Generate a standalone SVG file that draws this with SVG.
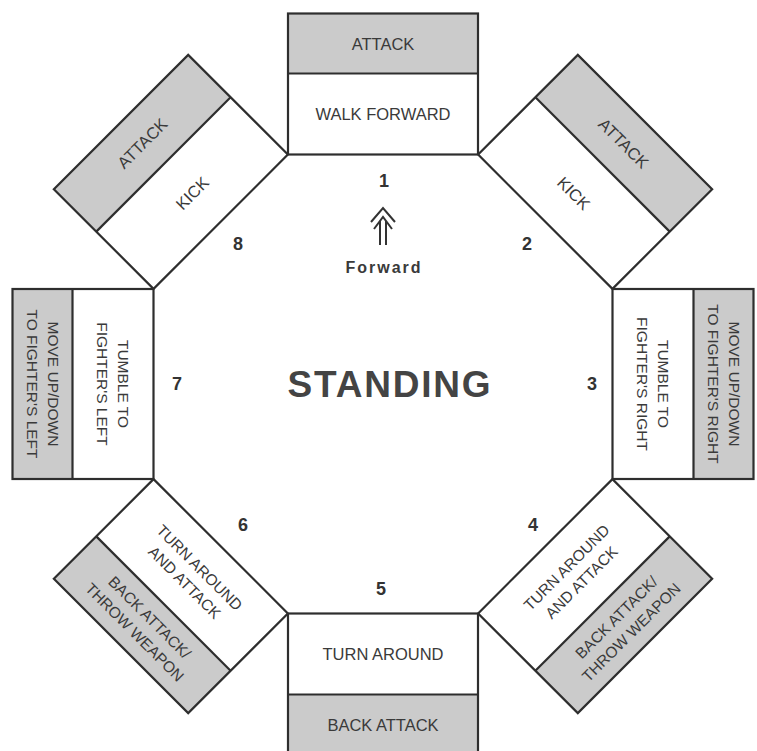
<svg xmlns="http://www.w3.org/2000/svg" xmlns:xlink="http://www.w3.org/1999/xlink" width="757" height="751" viewBox="0 0 757 751">
<style>
.bg{fill:#ffffff}
.gray{fill:#cbcbcb}
.white{fill:#ffffff}
.edge{fill:none;stroke:#2e2e2e;stroke-width:2.2}
.lbl{font-family:"Liberation Sans",Arial,sans-serif;font-size:15.5px;fill:#3a3a3a;text-anchor:middle}
.big{font-size:16.5px}
.num{font-family:"Liberation Sans",Arial,sans-serif;font-size:18px;font-weight:bold;fill:#333;text-anchor:middle}
.fwd{font-family:"Liberation Sans",Arial,sans-serif;font-size:16px;font-weight:bold;fill:#3a3a3a;text-anchor:middle;letter-spacing:2px}
.title{font-family:"Liberation Sans",Arial,sans-serif;font-size:37px;font-weight:bold;fill:#444;text-anchor:middle;letter-spacing:1.8px}
.arrow{fill:none;stroke:#333;stroke-width:2}
</style>
<defs>
<g id="box">
<rect class="gray" x="288" y="13.5" width="190" height="60"/>
<rect class="white" x="288" y="73.5" width="190" height="81"/>
<line class="edge" x1="288" y1="73.5" x2="478" y2="73.5"/>
<rect class="edge" x="288" y="13.5" width="190" height="141"/>
</g>
</defs>
<rect class="bg" x="0" y="0" width="757" height="751"/>

<g id="box-1">
<use xlink:href="#box"/>
<text class="lbl big" x="383" y="49.5">ATTACK</text>
<text class="lbl big" x="383" y="120">WALK FORWARD</text>
</g>

<g id="box-2" transform="rotate(45 383 384)">
<use xlink:href="#box"/>
<text class="lbl big" x="383" y="49.5">ATTACK</text>
<text class="lbl big" x="383" y="120">KICK</text>
</g>

<g id="box-3" transform="rotate(90 383 384)">
<use xlink:href="#box"/>
<text class="lbl" x="383" y="38.5">MOVE UP/DOWN</text>
<text class="lbl" x="383" y="59.5">TO FIGHTER'S RIGHT</text>
<text class="lbl" x="383" y="109">TUMBLE TO</text>
<text class="lbl" x="383" y="130">FIGHTER'S RIGHT</text>
</g>

<g id="box-4" transform="rotate(135 383 384)">
<use xlink:href="#box"/>
<g transform="rotate(180 383 43.5)">
<text class="lbl" x="383" y="38.5">BACK ATTACK/</text>
<text class="lbl" x="383" y="59.5">THROW WEAPON</text>
</g>
<g transform="rotate(180 383 114)">
<text class="lbl" x="383" y="109">TURN AROUND</text>
<text class="lbl" x="383" y="130">AND ATTACK</text>
</g>
</g>

<g id="box-5" transform="rotate(180 383 384)">
<use xlink:href="#box"/>
<g transform="rotate(180 383 43.5)">
<text class="lbl big" x="383" y="49.5">BACK ATTACK</text>
</g>
<g transform="rotate(180 383 114)">
<text class="lbl big" x="383" y="120">TURN AROUND</text>
</g>
</g>

<g id="box-6" transform="rotate(225 383 384)">
<use xlink:href="#box"/>
<g transform="rotate(180 383 43.5)">
<text class="lbl" x="383" y="38.5">BACK ATTACK/</text>
<text class="lbl" x="383" y="59.5">THROW WEAPON</text>
</g>
<g transform="rotate(180 383 114)">
<text class="lbl" x="383" y="109">TURN AROUND</text>
<text class="lbl" x="383" y="130">AND ATTACK</text>
</g>
</g>

<g id="box-7" transform="rotate(270 383 384)">
<use xlink:href="#box"/>
<g transform="rotate(180 383 43.5)">
<text class="lbl" x="383" y="38.5">MOVE UP/DOWN</text>
<text class="lbl" x="383" y="59.5">TO FIGHTER'S LEFT</text>
</g>
<g transform="rotate(180 383 114)">
<text class="lbl" x="383" y="109">TUMBLE TO</text>
<text class="lbl" x="383" y="130">FIGHTER'S LEFT</text>
</g>
</g>

<g id="box-8" transform="rotate(315 383 384)">
<use xlink:href="#box"/>
<text class="lbl big" x="383" y="49.5">ATTACK</text>
<text class="lbl big" x="383" y="120">KICK</text>
</g>

<g id="numbers">
<text class="num" x="384" y="186.5">1</text>
<text class="num" x="527" y="249.5">2</text>
<text class="num" x="592" y="389.5">3</text>
<text class="num" x="533" y="530.5">4</text>
<text class="num" x="381" y="594.5">5</text>
<text class="num" x="243" y="530.5">6</text>
<text class="num" x="177" y="389.5">7</text>
<text class="num" x="238" y="249.5">8</text>
</g>

<g id="forward">
<polyline class="arrow" points="371,222 383,208 395,222"/>
<polyline class="arrow" points="374,229 383,217 392,229"/>
<line class="arrow" x1="380" y1="221" x2="380" y2="245"/>
<line class="arrow" x1="386" y1="221" x2="386" y2="245"/>
<text class="fwd" x="384" y="273">Forward</text>
</g>

<g id="standing">
<text class="title" x="390" y="397">STANDING</text>
</g>
</svg>
